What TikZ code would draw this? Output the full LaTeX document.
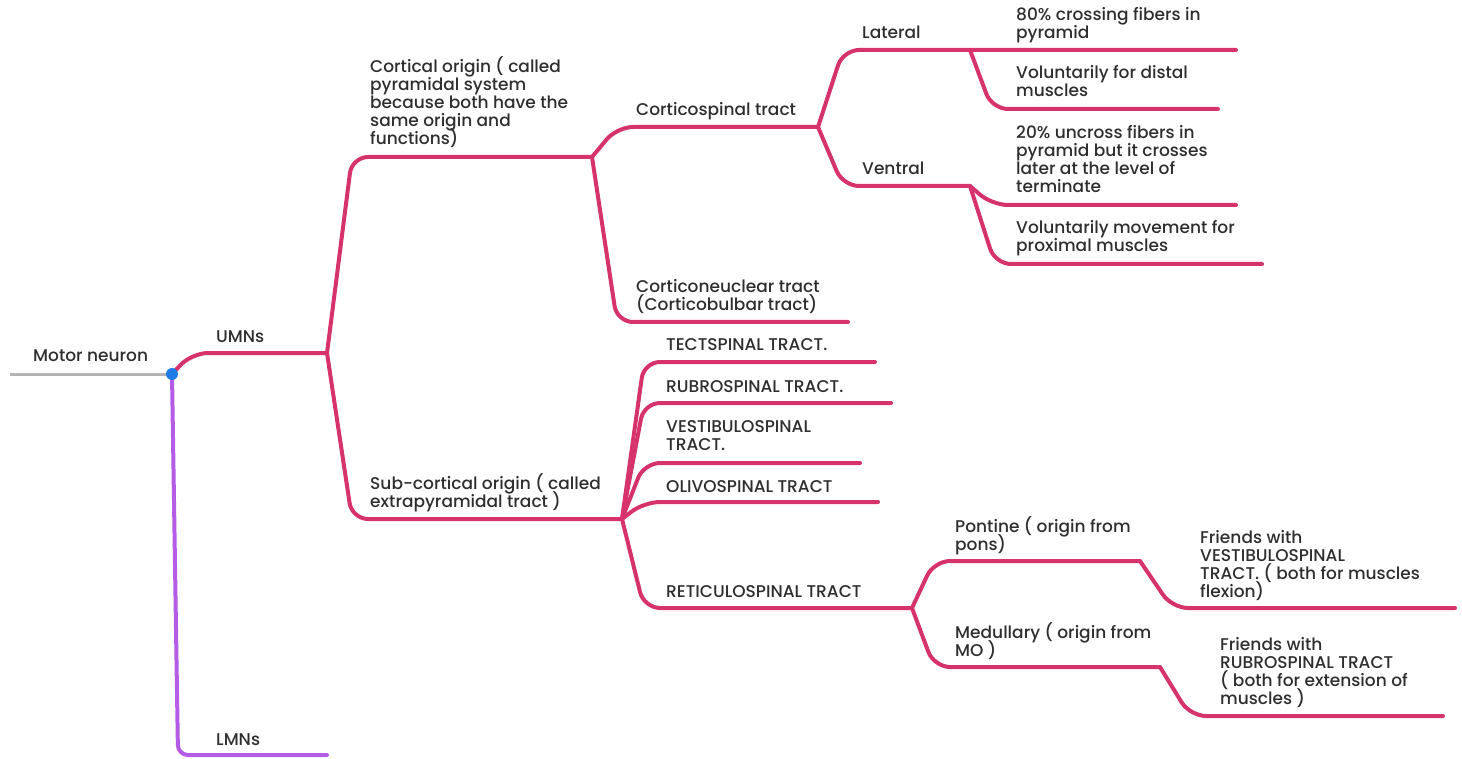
\documentclass[tikz,border=0pt]{standalone}
\usepackage{fontspec}
\IfFontExistsTF{Poppins Medium}{\setmainfont{Poppins Medium}}{\setmainfont{Poppins}[FakeBold=1]}
\usepackage{xcolor}
\definecolor{mmpink}{HTML}{D6336C}
\definecolor{mmviolet}{HTML}{B45CE6}
\definecolor{mmgray}{HTML}{B4B4B4}
\definecolor{mmblue}{HTML}{1E7BE6}
\definecolor{mmtext}{HTML}{2E2E2E}
\setlength{\lineskiplimit}{-20pt}

\begin{document}
\begin{tikzpicture}[x=1pt, y=-1pt,
  every node/.style={anchor=base west, inner sep=0pt, align=left, text=mmtext,
    font=\fontsize{17}{18}\selectfont},
  twig/.style={draw=mmpink, line width=4pt, rounded corners=16pt, line cap=round, line join=round},
  stem/.style={draw=mmgray, line width=3pt}]
\useasboundingbox (0,0) rectangle (1462,759);

% branch ends
\coordinate (start) at (10,374);
\coordinate (root) at (172,374);
\coordinate (umn) at (327,353);
\coordinate (lmn) at (327,755);
\coordinate (cort) at (592,157);
\coordinate (sub) at (622,519);
\coordinate (cspin) at (818,127);
\coordinate (cnuc) at (848,322);
\coordinate (lat) at (970,50);
\coordinate (cross) at (1236,50);
\coordinate (distal) at (1218,109);
\coordinate (vent) at (970,186);
\coordinate (uncross) at (1236,205);
\coordinate (prox) at (1262,264);
\coordinate (tect) at (875,362);
\coordinate (rubro) at (891,403);
\coordinate (vest) at (860,463);
\coordinate (olivo) at (878,502);
\coordinate (retic) at (912,608);
\coordinate (pont) at (1140,561);
\coordinate (frvest) at (1455,608);
\coordinate (med) at (1160,667);
\coordinate (frrubro) at (1443,716);

\draw[stem] (start) -- (root);
\draw[twig, draw=mmviolet, rounded corners=10pt] (root) -- ([xshift=6]root |- lmn) -- (lmn);
\draw[twig] (root) -- ([xshift=20]root |- umn) -- (umn);
\draw[twig] (umn) -- ([xshift=25]umn |- cort) -- (cort);
\draw[twig] (umn) -- ([xshift=25]umn |- sub) -- (sub);
\draw[twig] (cort) -- ([xshift=25]cort |- cspin) -- (cspin);
\draw[twig] (cort) -- ([xshift=25]cort |- cnuc) -- (cnuc);
\draw[twig] (cspin) -- ([xshift=25]cspin |- lat) -- (lat) -- (cross);
\draw[twig] (lat) -- ([xshift=22]lat |- distal) -- (distal);
\draw[twig] (cspin) -- ([xshift=25]cspin |- vent) -- (vent);
\draw[twig] (vent) -- ([xshift=22]vent |- uncross) -- (uncross);
\draw[twig] (vent) -- ([xshift=25]vent |- prox) -- (prox);
\foreach \t in {tect,rubro,vest,olivo,retic}
  \draw[twig] (sub) -- ([xshift=22]sub |- \t) -- (\t);
\draw[twig] (retic) -- ([xshift=22]retic |- pont) -- (pont);
\draw[twig] (pont) -- ([xshift=32]pont |- frvest) -- (frvest);
\draw[twig] (retic) -- ([xshift=22]retic |- med) -- (med);
\draw[twig] (med) -- ([xshift=30]med |- frrubro) -- (frrubro);
\fill[mmblue] (root) circle (6pt);

% labels, placed at the baseline of their last line
\node (motor) at (33,362) {Motor neuron};
\node (umnl) at (216,342) {UMNs};
\node (lmnl) at (216,745) {LMNs};
\node (cortl) at (370,145) {Cortical origin ( called\\pyramidal system\\because both have the\\same origin and\\functions)};
\node (subl) at (370,507) {Sub-cortical origin ( called\\extrapyramidal tract )};
\node (cspinl) at (636,116) {Corticospinal tract};
\node (cnucl) at (636,311) {Corticoneuclear tract\\(Corticobulbar tract)};
\node (latl) at (862,39) {Lateral};
\node (ventl) at (862,175) {Ventral};
\node (crossl) at (1016,39) {80\% crossing fibers in\\pyramid};
\node (distall) at (1016,97) {Voluntarily for distal\\muscles};
\node (uncrossl) at (1016,193) {20\% uncross fibers in\\pyramid but it crosses\\later at the level of\\terminate};
\node (proxl) at (1016,252) {Voluntarily movement for\\proximal muscles};
\node (tectl) at (666,350) {TECTSPINAL TRACT.};
\node (rubrol) at (666,392) {RUBROSPINAL TRACT.};
\node (vestl) at (666,450) {VESTIBULOSPINAL\\TRACT.};
\node (olivol) at (666,492) {OLIVOSPINAL TRACT};
\node (reticl) at (666,597) {RETICULOSPINAL TRACT};
\node (pontl) at (955,550) {Pontine ( origin from\\pons)};
\node (medl) at (955,656) {Medullary ( origin from\\MO )};
\node (frvestl) at (1200,597) {Friends with\\VESTIBULOSPINAL\\TRACT. ( both for muscles\\flexion)};
\node (frrubrol) at (1220,704) {Friends with\\RUBROSPINAL TRACT\\( both for extension of\\muscles )};
\end{tikzpicture}
\end{document}
